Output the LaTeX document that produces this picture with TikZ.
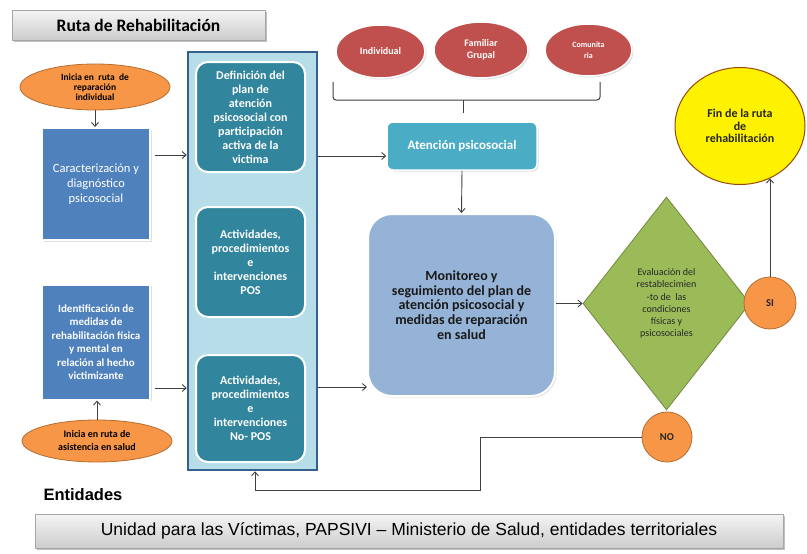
\documentclass[tikz,border=0pt]{standalone}
\usepackage{fontspec}
\setmainfont{Carlito}
\newfontfamily\arialf{Liberation Sans}
\usetikzlibrary{shapes.geometric,arrows.meta,shadows}
\definecolor{orangeF}{HTML}{F79646}
\definecolor{orangeD}{HTML}{B66D31}
\definecolor{blueF}{HTML}{4F81BD}
\definecolor{contF}{HTML}{B7DEE8}
\definecolor{contD}{HTML}{376092}
\definecolor{tealF}{HTML}{31859C}
\definecolor{redF}{HTML}{C0504D}
\definecolor{aquaF}{HTML}{4BACC6}
\definecolor{monF}{HTML}{95B3D7}
\definecolor{greenF}{HTML}{9BBB59}
\definecolor{greenD}{HTML}{71893F}
\definecolor{yellowD}{HTML}{984807}
\definecolor{lineC}{HTML}{404040}
\newcommand\myfs[2]{\fontsize{#1}{#2}\selectfont}
\begin{document}
\begin{tikzpicture}[x=1pt,y=-1pt,
  conn/.style={draw=lineC, line width=0.9pt, -{Straight Barb[length=4pt,width=7pt]}},
  soft/.style={drop shadow={opacity=0.25, shadow xshift=1.5pt, shadow yshift=-1.5pt}},
  graybar/.style={rectangle, draw=gray!70, line width=0.8pt, top color=gray!8, bottom color=gray!40,
     drop shadow={opacity=0.5, shadow xshift=2pt, shadow yshift=-2pt}},
  oval/.style={ellipse, fill=orangeF, draw=orangeD, line width=0.8pt, inner sep=1pt, align=center, text=black},
  bluebox/.style={rectangle, fill=blueF, draw=white, line width=2pt, text=white, align=center, soft},
  tealbox/.style={rectangle, rounded corners=12pt, fill=tealF, draw=white, line width=2pt, text=white, align=center, font=\bfseries\myfs{12}{14}, minimum width=109, minimum height=110},
  redoval/.style={ellipse, fill=redF, draw=white, line width=1.5pt, text=white, align=center, soft, inner sep=1pt},
  roundc/.style={circle, fill=orangeF, draw=orangeD, line width=0.8pt, font=\bfseries\myfs{10.5}{12}, text=black!85, inner sep=0pt}
]
\useasboundingbox (0,0) rectangle (807,554);
\fill[white] (0,0) rectangle (807,554);

% title
\node[graybar, minimum width=253, minimum height=30, font=\bfseries\myfs{17.5}{20}] (title) at (138.5,25) {Ruta de Rehabilitación};

% left column
\node[oval, minimum width=150, minimum height=46, font=\bfseries\myfs{9.5}{10}] (ell1) at (95,87) {Inicia en\ \ ruta\ \ de\\reparación\\individual};
\node[bluebox, minimum width=108, minimum height=112, font=\myfs{12.5}{15}] (box1) at (96,184) {Caracterización y\\diagnóstico\\psicosocial};
\node[bluebox, minimum width=108, minimum height=115, font=\bfseries\myfs{11}{13.5}] (box2) at (96,342) {Identificación de\\medidas de\\rehabilitación física\\y mental en\\relación al hecho\\victimizante};
\node[oval, minimum width=150, minimum height=42, font=\bfseries\myfs{10}{13}] (ell2) at (97,441) {Inicia en ruta de\\asistencia en salud};

% container
\node[rectangle, fill=contF, draw=contD, line width=2.5pt, minimum width=129, minimum height=418] (cont) at (252.5,261) {};
\node[tealbox] (t1) at (250.5,117) {Definición del\\plan de\\atención\\psicosocial con\\participación\\activa de la\\victima};
\node[tealbox] (t2) at (250.5,262) {Actividades,\\procedimientos\\e\\intervenciones\\POS};
\node[tealbox, minimum height=107] (t3) at (250.5,408.5) {Actividades,\\procedimientos\\e\\intervenciones\\No- POS};

% red ovals
\node[redoval, minimum width=89, minimum height=53, font=\bfseries\myfs{10}{12}] (ind) at (380.5,51.5) {Individual};
\node[redoval, minimum width=94, minimum height=56, font=\bfseries\myfs{10}{12}] (fam) at (481,50) {Familiar\\Grupal};
\node[redoval, minimum width=87, minimum height=52, font=\bfseries\myfs{8}{11}] (com) at (588.5,50) {Comunita\\ria};

% brace
\draw[lineC, line width=1pt, rounded corners=3pt] (333,82) -- (333,100) -- (600,100) -- (600,82);
\draw[lineC, line width=1pt] (463,100) -- (463,113);

% atencion
\node[rectangle, rounded corners=6pt, fill=aquaF, draw=white, line width=1.5pt, soft, minimum width=150, minimum height=48, text=white, font=\bfseries\myfs{13}{15}] (aten) at (462,146) {Atención psicosocial};

% monitoreo
\node[rectangle, rounded corners=24pt, fill=monF, draw=white, line width=2pt, soft, minimum width=187, minimum height=182, align=center, text=black!90, font=\bfseries\myfs{14}{14.75}] (mon) at (461.5,305) {Monitoreo y\\seguimiento del plan de\\atención psicosocial y\\medidas de reparación\\en salud};

% diamond
\node[diamond, fill=greenF, draw=greenD, line width=0.8pt, minimum width=167, minimum height=213, inner sep=1pt, align=center, text=black!85, font=\myfs{10}{12.3}] (dia) at (666.5,303.5) {Evaluación del\\restablecimien\\-to de\ \ las\\condiciones\\físicas y\\psicosociales};

\node[roundc, minimum size=52] (si) at (770,303) {SI};
\node[roundc, minimum size=50] (no) at (667,437) {NO};

% fin
\node[ellipse, fill=yellow, draw=yellowD, line width=1pt, minimum width=130, minimum height=117, align=center, text=black!85, font=\bfseries\myfs{12}{12.5}, inner sep=1pt] (fin) at (740,126) {Fin de la ruta\\de\\rehabilitación};

% connectors
\draw[conn] (ell1.south) -- (ell1.south |- box1.north);
\draw[conn] (ell2.north) -- (ell2.north |- box2.south);
\draw[conn] (box1.east |- 0,155) ++(4,0) -- (cont.west |- 0,155);
\draw[conn] (box2.east |- 0,388) ++(4,0) -- (cont.west |- 0,388);
\draw[conn] (cont.east |- 0,156) -- (aten.west |- 0,156);
\draw[conn] (cont.east |- 0,387) -- (mon.west |- 0,387);
\draw[conn] (aten.south) -- (mon.north);
\draw[conn] (mon.east |- dia.west) -- (dia.west);
\draw[conn] (si.north) -- (si.north |- fin.-60);
\coordinate (nob) at (480,490);
\draw[conn] (no.west) -- (nob |- no.west) -- (nob) -- (255,490) -- (255,490 |- cont.south);

% entidades
\node[anchor=west, font=\arialf\bfseries\myfs{16.5}{19}] (ent) at (40,495) {Entidades};
\node[graybar, minimum width=748, minimum height=34, font=\arialf\myfs{17.5}{20}] (bottom) at (409,531) {Unidad para las Víctimas, PAPSIVI – Ministerio de Salud, entidades territoriales};
\end{tikzpicture}
\end{document}
